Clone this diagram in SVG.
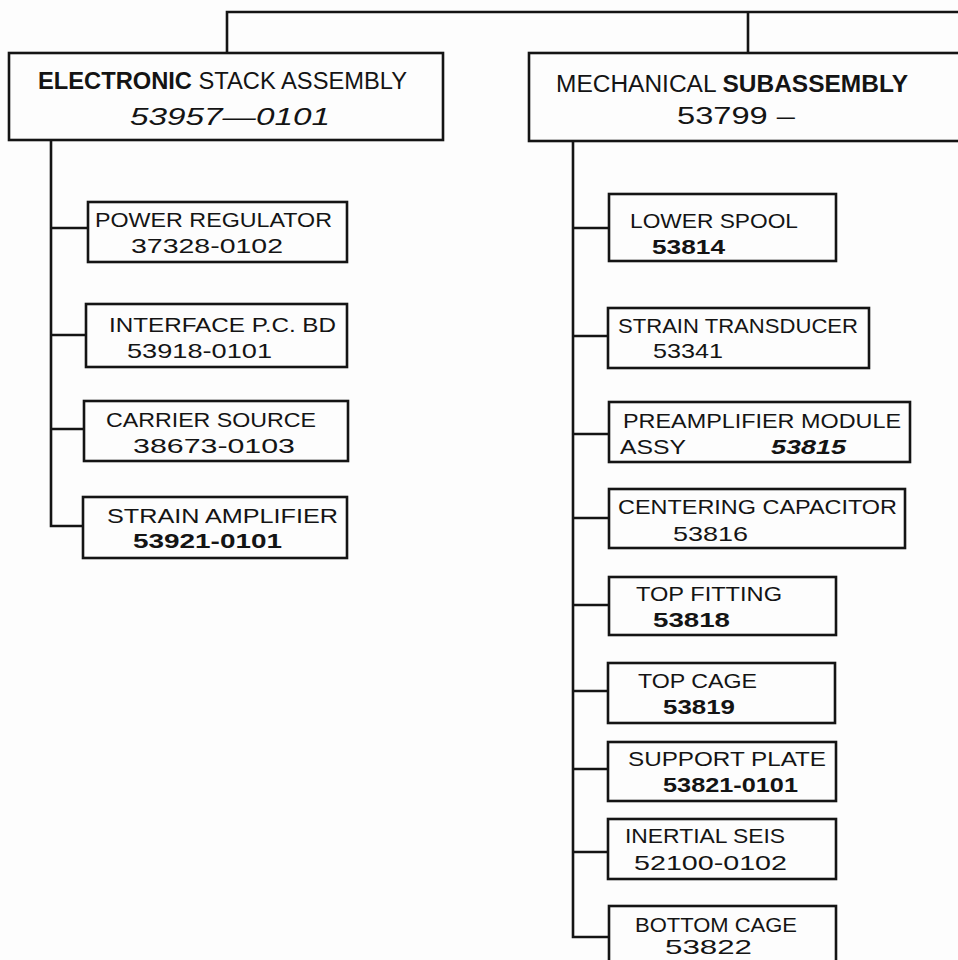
<svg xmlns="http://www.w3.org/2000/svg" width="958" height="960" viewBox="0 0 958 960">
<style>
.bg{fill:#fdfdfd}
.box{fill:#fdfdfd;stroke:#141414;stroke-width:2.6}
.ln{fill:none;stroke:#141414;stroke-width:2.6;stroke-linecap:square}
text{font-family:"Liberation Sans","DejaVu Sans",Arial,sans-serif;fill:#141414}
.t{font-size:21px}
.h{font-size:23px}
.b{font-weight:bold}
.i{font-style:italic}
</style>
<rect class="bg" x="0" y="0" width="958" height="960"/>
<g id="connectors">
<path class="ln" d="M227 12 H960 M227 12 V53 M748 12 V53"/>
<path class="ln" d="M51 141 V526 H83 M51 228 H88 M51 335 H86 M51 429 H84"/>
<path class="ln" d="M573 141 V937 H609 M573 228 H609 M573 336 H608 M573 434 H609 M573 518 H609 M573 605 H609 M573 691 H608 M573 769 H608 M573 852 H608"/>
</g>
<g id="electronic-stack-assembly">
<rect class="box" x="9" y="53" width="434" height="87"/>
<text class="h" x="38" y="89" textLength="369" lengthAdjust="spacingAndGlyphs"><tspan class="b">ELECTRONIC</tspan> STACK ASSEMBLY</text>
<text class="h i" x="130" y="125" textLength="200" lengthAdjust="spacingAndGlyphs">53957—0101</text>
</g>
<g id="mechanical-subassembly">
<rect class="box" x="529" y="53" width="440" height="88"/>
<text class="h" x="556" y="92" textLength="352" lengthAdjust="spacingAndGlyphs">MECHANICAL <tspan class="b">SUBASSEMBLY</tspan></text>
<text class="h" x="677" y="124" textLength="118" lengthAdjust="spacingAndGlyphs">53799 –</text>
</g>
<g id="power-regulator">
<rect class="box" x="88" y="202" width="259" height="60"/>
<text class="t" x="95" y="227" textLength="237" lengthAdjust="spacingAndGlyphs">POWER REGULATOR</text>
<text class="t" x="131" y="253" textLength="152" lengthAdjust="spacingAndGlyphs">37328-0102</text>
</g>
<g id="interface-pc-bd">
<rect class="box" x="86" y="304" width="261" height="63"/>
<text class="t" x="109" y="332" textLength="227" lengthAdjust="spacingAndGlyphs">INTERFACE P.C. BD</text>
<text class="t" x="127" y="358" textLength="145" lengthAdjust="spacingAndGlyphs">53918-0101</text>
</g>
<g id="carrier-source">
<rect class="box" x="84" y="401" width="264" height="60"/>
<text class="t" x="106" y="427" textLength="210" lengthAdjust="spacingAndGlyphs">CARRIER SOURCE</text>
<text class="t" x="133" y="453" textLength="162" lengthAdjust="spacingAndGlyphs">38673-0103</text>
</g>
<g id="strain-amplifier">
<rect class="box" x="83" y="497" width="264" height="61"/>
<text class="t" x="107" y="523" textLength="231" lengthAdjust="spacingAndGlyphs">STRAIN AMPLIFIER</text>
<text class="t b" x="133" y="548" textLength="149" lengthAdjust="spacingAndGlyphs">53921-0101</text>
</g>
<g id="lower-spool">
<rect class="box" x="609" y="194" width="227" height="67"/>
<text class="t" x="630" y="228" textLength="168" lengthAdjust="spacingAndGlyphs">LOWER SPOOL</text>
<text class="t b" x="652" y="254" textLength="73" lengthAdjust="spacingAndGlyphs">53814</text>
</g>
<g id="strain-transducer">
<rect class="box" x="608" y="308" width="261" height="60"/>
<text class="t" x="618" y="333" textLength="240" lengthAdjust="spacingAndGlyphs">STRAIN TRANSDUCER</text>
<text class="t" x="653" y="358" textLength="70" lengthAdjust="spacingAndGlyphs">53341</text>
</g>
<g id="preamplifier-module-assy">
<rect class="box" x="609" y="402" width="301" height="60"/>
<text class="t" x="623" y="428" textLength="278" lengthAdjust="spacingAndGlyphs">PREAMPLIFIER MODULE</text>
<text class="t" x="620" y="454" textLength="66" lengthAdjust="spacingAndGlyphs">ASSY</text>
<text class="t b i" x="771" y="454" textLength="75" lengthAdjust="spacingAndGlyphs">53815</text>
</g>
<g id="centering-capacitor">
<rect class="box" x="609" y="489" width="296" height="59"/>
<text class="t" x="618" y="514" textLength="279" lengthAdjust="spacingAndGlyphs">CENTERING CAPACITOR</text>
<text class="t" x="673" y="541" textLength="75" lengthAdjust="spacingAndGlyphs">53816</text>
</g>
<g id="top-fitting">
<rect class="box" x="609" y="577" width="227" height="58"/>
<text class="t" x="636" y="601" textLength="146" lengthAdjust="spacingAndGlyphs">TOP FITTING</text>
<text class="t b" x="653" y="627" textLength="77" lengthAdjust="spacingAndGlyphs">53818</text>
</g>
<g id="top-cage">
<rect class="box" x="608" y="663" width="227" height="60"/>
<text class="t" x="638" y="688" textLength="119" lengthAdjust="spacingAndGlyphs">TOP CAGE</text>
<text class="t b" x="663" y="714" textLength="72" lengthAdjust="spacingAndGlyphs">53819</text>
</g>
<g id="support-plate">
<rect class="box" x="608" y="742" width="228" height="59"/>
<text class="t" x="628" y="766" textLength="198" lengthAdjust="spacingAndGlyphs">SUPPORT PLATE</text>
<text class="t b" x="663" y="792" textLength="135" lengthAdjust="spacingAndGlyphs">53821-0101</text>
</g>
<g id="inertial-seis">
<rect class="box" x="608" y="819" width="228" height="60"/>
<text class="t" x="625" y="843" textLength="160" lengthAdjust="spacingAndGlyphs">INERTIAL SEIS</text>
<text class="t" x="634" y="870" textLength="153" lengthAdjust="spacingAndGlyphs">52100-0102</text>
</g>
<g id="bottom-cage">
<rect class="box" x="609" y="906" width="227" height="70"/>
<text class="t" x="635" y="932" textLength="162" lengthAdjust="spacingAndGlyphs">BOTTOM CAGE</text>
<text class="t" x="665" y="954" textLength="87" lengthAdjust="spacingAndGlyphs">53822</text>
</g>
</svg>
